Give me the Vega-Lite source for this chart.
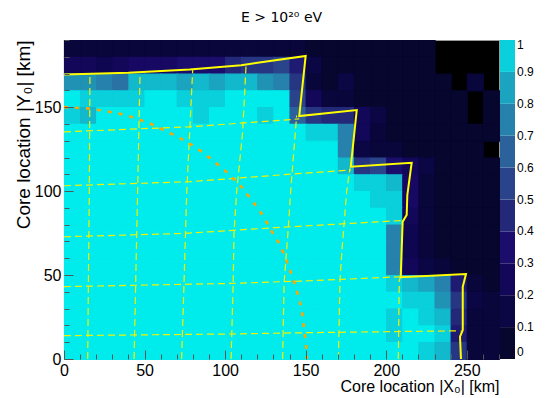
{
"$schema": "https://vega.github.io/schema/vega-lite/v6.json",
"width": 435, "height": 319,
"autosize": {"type": "none"},
"padding": {"left": 64, "top": 40, "right": 53, "bottom": 39},
"background": "white",
"title": {"text": "E > 10²⁰ eV", "font": "DejaVu Sans", "fontSize": 14, "fontWeight": "normal", "color": "#000", "offset": 7},
"config": {
  "view": {"fill": "black", "stroke": "#999", "strokeWidth": 1},
  "axis": {"labelFont": "Liberation Sans", "labelFontSize": 16, "labelColor": "#000", "titleFont": "Liberation Sans", "titleFontSize": 16, "titleFontWeight": "normal", "titleColor": "#000", "grid": false, "domainColor": "#333", "tickColor": "#555"}
},
"datasets": {
"heat": [
{"x":0,"y":180,"v":0.09},{"x":10,"y":180,"v":0.09},{"x":20,"y":180,"v":0.06},{"x":30,"y":180,"v":0.06},{"x":40,"y":180,"v":0.09},{"x":50,"y":180,"v":0.08},{"x":60,"y":180,"v":0.09},{"x":70,"y":180,"v":0.07},{"x":80,"y":180,"v":0.06},{"x":90,"y":180,"v":0.06},{"x":100,"y":180,"v":0.08},{"x":110,"y":180,"v":0.07},{"x":120,"y":180,"v":0.07},{"x":130,"y":180,"v":0.06},{"x":140,"y":180,"v":0.06},{"x":150,"y":180,"v":0.04},{"x":160,"y":180,"v":0.04},{"x":170,"y":180,"v":0.04},{"x":180,"y":180,"v":0.04},{"x":190,"y":180,"v":0.04},{"x":200,"y":180,"v":0.04},{"x":210,"y":180,"v":0.04},{"x":220,"y":180,"v":0.04},
{"x":0,"y":170,"v":0.22},{"x":10,"y":170,"v":0.22},{"x":20,"y":170,"v":0.18},{"x":30,"y":170,"v":0.22},{"x":40,"y":170,"v":0.28},{"x":50,"y":170,"v":0.28},{"x":60,"y":170,"v":0.25},{"x":70,"y":170,"v":0.3},{"x":80,"y":170,"v":0.33},{"x":90,"y":170,"v":0.33},{"x":100,"y":170,"v":0.42},{"x":110,"y":170,"v":0.45},{"x":120,"y":170,"v":0.48},{"x":130,"y":170,"v":0.5},{"x":140,"y":170,"v":0.38},{"x":150,"y":170,"v":0.12},{"x":160,"y":170,"v":0.04},{"x":170,"y":170,"v":0.04},{"x":180,"y":170,"v":0.04},{"x":190,"y":170,"v":0.04},{"x":200,"y":170,"v":0.04},{"x":210,"y":170,"v":0.04},{"x":220,"y":170,"v":0.04},
{"x":0,"y":160,"v":0.78},{"x":10,"y":160,"v":0.78},{"x":20,"y":160,"v":0.72},{"x":30,"y":160,"v":0.68},{"x":40,"y":160,"v":0.88},{"x":50,"y":160,"v":0.85},{"x":60,"y":160,"v":0.85},{"x":70,"y":160,"v":0.82},{"x":80,"y":160,"v":0.85},{"x":90,"y":160,"v":0.82},{"x":100,"y":160,"v":0.85},{"x":110,"y":160,"v":0.88},{"x":120,"y":160,"v":0.78},{"x":130,"y":160,"v":0.72},{"x":140,"y":160,"v":0.47},{"x":150,"y":160,"v":0.06},{"x":160,"y":160,"v":0.04},{"x":170,"y":160,"v":0.12},{"x":180,"y":160,"v":0.04},{"x":190,"y":160,"v":0.04},{"x":200,"y":160,"v":0.04},{"x":210,"y":160,"v":0.04},{"x":220,"y":160,"v":0.04},{"x":230,"y":160,"v":0.04},{"x":250,"y":160,"v":0.07},
{"x":0,"y":150,"v":0.97},{"x":10,"y":150,"v":0.93},{"x":20,"y":150,"v":0.93},{"x":30,"y":150,"v":0.93},{"x":40,"y":150,"v":0.9},{"x":50,"y":150,"v":0.97},{"x":60,"y":150,"v":0.97},{"x":70,"y":150,"v":0.93},{"x":80,"y":150,"v":0.93},{"x":90,"y":150,"v":0.93},{"x":100,"y":150,"v":0.97},{"x":110,"y":150,"v":0.97},{"x":120,"y":150,"v":0.97},{"x":130,"y":150,"v":0.97},{"x":140,"y":150,"v":0.52},{"x":150,"y":150,"v":0.22},{"x":160,"y":150,"v":0.08},{"x":170,"y":150,"v":0.06},{"x":180,"y":150,"v":0.04},{"x":190,"y":150,"v":0.04},{"x":200,"y":150,"v":0.04},{"x":210,"y":150,"v":0.04},{"x":220,"y":150,"v":0.04},{"x":230,"y":150,"v":0.04},{"x":240,"y":150,"v":0.04},{"x":260,"y":150,"v":0.04},
{"x":0,"y":140,"v":0.93},{"x":10,"y":140,"v":0.88},{"x":20,"y":140,"v":0.97},{"x":30,"y":140,"v":0.97},{"x":40,"y":140,"v":0.97},{"x":50,"y":140,"v":0.97},{"x":60,"y":140,"v":0.97},{"x":70,"y":140,"v":0.97},{"x":80,"y":140,"v":0.93},{"x":90,"y":140,"v":0.97},{"x":100,"y":140,"v":0.97},{"x":110,"y":140,"v":0.97},{"x":120,"y":140,"v":0.93},{"x":130,"y":140,"v":0.97},{"x":140,"y":140,"v":0.6},{"x":150,"y":140,"v":0.45},{"x":160,"y":140,"v":0.42},{"x":170,"y":140,"v":0.4},{"x":180,"y":140,"v":0.2},{"x":190,"y":140,"v":0.1},{"x":200,"y":140,"v":0.04},{"x":210,"y":140,"v":0.04},{"x":220,"y":140,"v":0.04},{"x":230,"y":140,"v":0.04},{"x":240,"y":140,"v":0.04},{"x":260,"y":140,"v":0.04},
{"x":0,"y":130,"v":0.97},{"x":10,"y":130,"v":0.97},{"x":20,"y":130,"v":0.97},{"x":30,"y":130,"v":0.97},{"x":40,"y":130,"v":0.97},{"x":50,"y":130,"v":0.97},{"x":60,"y":130,"v":0.97},{"x":70,"y":130,"v":0.97},{"x":80,"y":130,"v":0.97},{"x":90,"y":130,"v":0.97},{"x":100,"y":130,"v":0.97},{"x":110,"y":130,"v":0.97},{"x":120,"y":130,"v":0.97},{"x":130,"y":130,"v":0.97},{"x":140,"y":130,"v":0.97},{"x":150,"y":130,"v":0.92},{"x":160,"y":130,"v":0.92},{"x":170,"y":130,"v":0.72},{"x":180,"y":130,"v":0.2},{"x":190,"y":130,"v":0.08},{"x":200,"y":130,"v":0.04},{"x":210,"y":130,"v":0.04},{"x":220,"y":130,"v":0.04},{"x":230,"y":130,"v":0.04},{"x":240,"y":130,"v":0.04},{"x":250,"y":130,"v":0.04},{"x":260,"y":130,"v":0.04},
{"x":0,"y":120,"v":0.97},{"x":10,"y":120,"v":0.97},{"x":20,"y":120,"v":0.97},{"x":30,"y":120,"v":0.97},{"x":40,"y":120,"v":0.97},{"x":50,"y":120,"v":0.97},{"x":60,"y":120,"v":0.97},{"x":70,"y":120,"v":0.97},{"x":80,"y":120,"v":0.97},{"x":90,"y":120,"v":0.97},{"x":100,"y":120,"v":0.97},{"x":110,"y":120,"v":0.97},{"x":120,"y":120,"v":0.97},{"x":130,"y":120,"v":0.97},{"x":140,"y":120,"v":0.97},{"x":150,"y":120,"v":0.97},{"x":160,"y":120,"v":0.97},{"x":170,"y":120,"v":0.72},{"x":180,"y":120,"v":0.12},{"x":190,"y":120,"v":0.08},{"x":200,"y":120,"v":0.08},{"x":210,"y":120,"v":0.04},{"x":220,"y":120,"v":0.04},{"x":230,"y":120,"v":0.04},{"x":240,"y":120,"v":0.04},{"x":250,"y":120,"v":0.04},
{"x":0,"y":110,"v":0.97},{"x":10,"y":110,"v":0.97},{"x":20,"y":110,"v":0.97},{"x":30,"y":110,"v":0.97},{"x":40,"y":110,"v":0.97},{"x":50,"y":110,"v":0.97},{"x":60,"y":110,"v":0.97},{"x":70,"y":110,"v":0.97},{"x":80,"y":110,"v":0.97},{"x":90,"y":110,"v":0.97},{"x":100,"y":110,"v":0.97},{"x":110,"y":110,"v":0.97},{"x":120,"y":110,"v":0.97},{"x":130,"y":110,"v":0.97},{"x":140,"y":110,"v":0.97},{"x":150,"y":110,"v":0.97},{"x":160,"y":110,"v":0.97},{"x":170,"y":110,"v":0.88},{"x":180,"y":110,"v":0.45},{"x":190,"y":110,"v":0.52},{"x":200,"y":110,"v":0.3},{"x":210,"y":110,"v":0.2},{"x":220,"y":110,"v":0.1},{"x":230,"y":110,"v":0.04},{"x":240,"y":110,"v":0.04},{"x":250,"y":110,"v":0.04},{"x":260,"y":110,"v":0.04},
{"x":0,"y":100,"v":0.97},{"x":10,"y":100,"v":0.97},{"x":20,"y":100,"v":0.97},{"x":30,"y":100,"v":0.97},{"x":40,"y":100,"v":0.97},{"x":50,"y":100,"v":0.97},{"x":60,"y":100,"v":0.97},{"x":70,"y":100,"v":0.97},{"x":80,"y":100,"v":0.97},{"x":90,"y":100,"v":0.97},{"x":100,"y":100,"v":0.97},{"x":110,"y":100,"v":0.97},{"x":120,"y":100,"v":0.97},{"x":130,"y":100,"v":0.97},{"x":140,"y":100,"v":0.97},{"x":150,"y":100,"v":0.97},{"x":160,"y":100,"v":0.97},{"x":170,"y":100,"v":0.97},{"x":180,"y":100,"v":0.92},{"x":190,"y":100,"v":0.9},{"x":200,"y":100,"v":0.88},{"x":210,"y":100,"v":0.28},{"x":220,"y":100,"v":0.06},{"x":230,"y":100,"v":0.04},{"x":240,"y":100,"v":0.04},{"x":250,"y":100,"v":0.04},{"x":260,"y":100,"v":0.04},
{"x":0,"y":90,"v":0.97},{"x":10,"y":90,"v":0.97},{"x":20,"y":90,"v":0.97},{"x":30,"y":90,"v":0.97},{"x":40,"y":90,"v":0.97},{"x":50,"y":90,"v":0.97},{"x":60,"y":90,"v":0.97},{"x":70,"y":90,"v":0.97},{"x":80,"y":90,"v":0.97},{"x":90,"y":90,"v":0.97},{"x":100,"y":90,"v":0.97},{"x":110,"y":90,"v":0.97},{"x":120,"y":90,"v":0.97},{"x":130,"y":90,"v":0.97},{"x":140,"y":90,"v":0.97},{"x":150,"y":90,"v":0.97},{"x":160,"y":90,"v":0.97},{"x":170,"y":90,"v":0.97},{"x":180,"y":90,"v":0.95},{"x":190,"y":90,"v":0.92},{"x":200,"y":90,"v":0.9},{"x":210,"y":90,"v":0.25},{"x":220,"y":90,"v":0.05},{"x":230,"y":90,"v":0.04},{"x":240,"y":90,"v":0.04},{"x":250,"y":90,"v":0.04},{"x":260,"y":90,"v":0.04},
{"x":0,"y":80,"v":0.97},{"x":10,"y":80,"v":0.97},{"x":20,"y":80,"v":0.97},{"x":30,"y":80,"v":0.97},{"x":40,"y":80,"v":0.97},{"x":50,"y":80,"v":0.97},{"x":60,"y":80,"v":0.97},{"x":70,"y":80,"v":0.97},{"x":80,"y":80,"v":0.97},{"x":90,"y":80,"v":0.97},{"x":100,"y":80,"v":0.97},{"x":110,"y":80,"v":0.97},{"x":120,"y":80,"v":0.97},{"x":130,"y":80,"v":0.97},{"x":140,"y":80,"v":0.97},{"x":150,"y":80,"v":0.97},{"x":160,"y":80,"v":0.97},{"x":170,"y":80,"v":0.97},{"x":180,"y":80,"v":0.97},{"x":190,"y":80,"v":0.95},{"x":200,"y":80,"v":0.9},{"x":210,"y":80,"v":0.2},{"x":220,"y":80,"v":0.05},{"x":230,"y":80,"v":0.04},{"x":240,"y":80,"v":0.04},{"x":250,"y":80,"v":0.04},{"x":260,"y":80,"v":0.04},
{"x":0,"y":70,"v":0.97},{"x":10,"y":70,"v":0.97},{"x":20,"y":70,"v":0.97},{"x":30,"y":70,"v":0.97},{"x":40,"y":70,"v":0.97},{"x":50,"y":70,"v":0.97},{"x":60,"y":70,"v":0.97},{"x":70,"y":70,"v":0.97},{"x":80,"y":70,"v":0.97},{"x":90,"y":70,"v":0.97},{"x":100,"y":70,"v":0.97},{"x":110,"y":70,"v":0.97},{"x":120,"y":70,"v":0.97},{"x":130,"y":70,"v":0.97},{"x":140,"y":70,"v":0.97},{"x":150,"y":70,"v":0.97},{"x":160,"y":70,"v":0.97},{"x":170,"y":70,"v":0.97},{"x":180,"y":70,"v":0.97},{"x":190,"y":70,"v":0.97},{"x":200,"y":70,"v":0.72},{"x":210,"y":70,"v":0.15},{"x":220,"y":70,"v":0.08},{"x":230,"y":70,"v":0.04},{"x":240,"y":70,"v":0.04},{"x":250,"y":70,"v":0.04},{"x":260,"y":70,"v":0.04},
{"x":0,"y":60,"v":0.97},{"x":10,"y":60,"v":0.97},{"x":20,"y":60,"v":0.97},{"x":30,"y":60,"v":0.97},{"x":40,"y":60,"v":0.97},{"x":50,"y":60,"v":0.97},{"x":60,"y":60,"v":0.97},{"x":70,"y":60,"v":0.97},{"x":80,"y":60,"v":0.97},{"x":90,"y":60,"v":0.97},{"x":100,"y":60,"v":0.97},{"x":110,"y":60,"v":0.97},{"x":120,"y":60,"v":0.97},{"x":130,"y":60,"v":0.97},{"x":140,"y":60,"v":0.97},{"x":150,"y":60,"v":0.97},{"x":160,"y":60,"v":0.97},{"x":170,"y":60,"v":0.97},{"x":180,"y":60,"v":0.97},{"x":190,"y":60,"v":0.97},{"x":200,"y":60,"v":0.72},{"x":210,"y":60,"v":0.15},{"x":220,"y":60,"v":0.08},{"x":230,"y":60,"v":0.04},{"x":240,"y":60,"v":0.04},{"x":250,"y":60,"v":0.04},{"x":260,"y":60,"v":0.04},
{"x":0,"y":50,"v":0.97},{"x":10,"y":50,"v":0.97},{"x":20,"y":50,"v":0.97},{"x":30,"y":50,"v":0.97},{"x":40,"y":50,"v":0.97},{"x":50,"y":50,"v":0.97},{"x":60,"y":50,"v":0.97},{"x":70,"y":50,"v":0.97},{"x":80,"y":50,"v":0.97},{"x":90,"y":50,"v":0.97},{"x":100,"y":50,"v":0.97},{"x":110,"y":50,"v":0.97},{"x":120,"y":50,"v":0.97},{"x":130,"y":50,"v":0.97},{"x":140,"y":50,"v":0.97},{"x":150,"y":50,"v":0.97},{"x":160,"y":50,"v":0.97},{"x":170,"y":50,"v":0.97},{"x":180,"y":50,"v":0.97},{"x":190,"y":50,"v":0.97},{"x":200,"y":50,"v":0.72},{"x":210,"y":50,"v":0.2},{"x":220,"y":50,"v":0.1},{"x":230,"y":50,"v":0.07},{"x":240,"y":50,"v":0.04},{"x":250,"y":50,"v":0.04},{"x":260,"y":50,"v":0.04},
{"x":0,"y":40,"v":0.97},{"x":10,"y":40,"v":0.97},{"x":20,"y":40,"v":0.97},{"x":30,"y":40,"v":0.97},{"x":40,"y":40,"v":0.97},{"x":50,"y":40,"v":0.97},{"x":60,"y":40,"v":0.97},{"x":70,"y":40,"v":0.97},{"x":80,"y":40,"v":0.97},{"x":90,"y":40,"v":0.97},{"x":100,"y":40,"v":0.97},{"x":110,"y":40,"v":0.97},{"x":120,"y":40,"v":0.97},{"x":130,"y":40,"v":0.97},{"x":140,"y":40,"v":0.97},{"x":150,"y":40,"v":0.97},{"x":160,"y":40,"v":0.97},{"x":170,"y":40,"v":0.97},{"x":180,"y":40,"v":0.97},{"x":190,"y":40,"v":0.97},{"x":200,"y":40,"v":0.9},{"x":210,"y":40,"v":0.88},{"x":220,"y":40,"v":0.82},{"x":230,"y":40,"v":0.72},{"x":240,"y":40,"v":0.35},{"x":250,"y":40,"v":0.05},{"x":260,"y":40,"v":0.04},
{"x":0,"y":30,"v":0.97},{"x":10,"y":30,"v":0.97},{"x":20,"y":30,"v":0.97},{"x":30,"y":30,"v":0.97},{"x":40,"y":30,"v":0.97},{"x":50,"y":30,"v":0.97},{"x":60,"y":30,"v":0.97},{"x":70,"y":30,"v":0.97},{"x":80,"y":30,"v":0.97},{"x":90,"y":30,"v":0.97},{"x":100,"y":30,"v":0.97},{"x":110,"y":30,"v":0.97},{"x":120,"y":30,"v":0.97},{"x":130,"y":30,"v":0.97},{"x":140,"y":30,"v":0.97},{"x":150,"y":30,"v":0.97},{"x":160,"y":30,"v":0.97},{"x":170,"y":30,"v":0.97},{"x":180,"y":30,"v":0.97},{"x":190,"y":30,"v":0.97},{"x":200,"y":30,"v":0.95},{"x":210,"y":30,"v":0.93},{"x":220,"y":30,"v":0.9},{"x":230,"y":30,"v":0.78},{"x":240,"y":30,"v":0.45},{"x":250,"y":30,"v":0.1},{"x":260,"y":30,"v":0.05},
{"x":0,"y":20,"v":0.97},{"x":10,"y":20,"v":0.97},{"x":20,"y":20,"v":0.97},{"x":30,"y":20,"v":0.97},{"x":40,"y":20,"v":0.97},{"x":50,"y":20,"v":0.97},{"x":60,"y":20,"v":0.97},{"x":70,"y":20,"v":0.97},{"x":80,"y":20,"v":0.97},{"x":90,"y":20,"v":0.97},{"x":100,"y":20,"v":0.97},{"x":110,"y":20,"v":0.97},{"x":120,"y":20,"v":0.97},{"x":130,"y":20,"v":0.97},{"x":140,"y":20,"v":0.97},{"x":150,"y":20,"v":0.97},{"x":160,"y":20,"v":0.97},{"x":170,"y":20,"v":0.97},{"x":180,"y":20,"v":0.97},{"x":190,"y":20,"v":0.97},{"x":200,"y":20,"v":0.93},{"x":210,"y":20,"v":0.95},{"x":220,"y":20,"v":0.93},{"x":230,"y":20,"v":0.85},{"x":240,"y":20,"v":0.42},{"x":250,"y":20,"v":0.07},{"x":260,"y":20,"v":0.05},
{"x":0,"y":10,"v":0.97},{"x":10,"y":10,"v":0.97},{"x":20,"y":10,"v":0.97},{"x":30,"y":10,"v":0.97},{"x":40,"y":10,"v":0.97},{"x":50,"y":10,"v":0.97},{"x":60,"y":10,"v":0.97},{"x":70,"y":10,"v":0.97},{"x":80,"y":10,"v":0.97},{"x":90,"y":10,"v":0.97},{"x":100,"y":10,"v":0.97},{"x":110,"y":10,"v":0.97},{"x":120,"y":10,"v":0.97},{"x":130,"y":10,"v":0.97},{"x":140,"y":10,"v":0.97},{"x":150,"y":10,"v":0.97},{"x":160,"y":10,"v":0.97},{"x":170,"y":10,"v":0.97},{"x":180,"y":10,"v":0.97},{"x":190,"y":10,"v":0.97},{"x":200,"y":10,"v":0.9},{"x":210,"y":10,"v":0.97},{"x":220,"y":10,"v":0.97},{"x":230,"y":10,"v":0.9},{"x":240,"y":10,"v":0.38},{"x":250,"y":10,"v":0.05},{"x":260,"y":10,"v":0.05},
{"x":0,"y":0,"v":0.97},{"x":10,"y":0,"v":0.97},{"x":20,"y":0,"v":0.97},{"x":30,"y":0,"v":0.97},{"x":40,"y":0,"v":0.97},{"x":50,"y":0,"v":0.97},{"x":60,"y":0,"v":0.97},{"x":70,"y":0,"v":0.97},{"x":80,"y":0,"v":0.97},{"x":90,"y":0,"v":0.97},{"x":100,"y":0,"v":0.97},{"x":110,"y":0,"v":0.97},{"x":120,"y":0,"v":0.97},{"x":130,"y":0,"v":0.97},{"x":140,"y":0,"v":0.97},{"x":150,"y":0,"v":0.97},{"x":160,"y":0,"v":0.97},{"x":170,"y":0,"v":0.97},{"x":180,"y":0,"v":0.97},{"x":190,"y":0,"v":0.97},{"x":200,"y":0,"v":0.97},{"x":210,"y":0,"v":0.97},{"x":220,"y":0,"v":0.9},{"x":230,"y":0,"v":0.85},{"x":240,"y":0,"v":0.45},{"x":250,"y":0,"v":0.08},{"x":260,"y":0,"v":0.06}
],
"bound": [
{"o":1,"x":0,"y":169.5},{"o":2,"x":40,"y":170.5},{"o":3,"x":78,"y":172.5},{"o":4,"x":110,"y":175},{"o":5,"x":150,"y":180.5},{"o":6,"x":146,"y":144.7},{"o":7,"x":181.7,"y":148.3},{"o":8,"x":178,"y":114.5},{"o":9,"x":215.8,"y":116.9},{"o":10,"x":213.1,"y":97.7},{"o":11,"x":212.7,"y":85.8},{"o":12,"x":210.2,"y":81.8},{"o":13,"x":209,"y":48.7},{"o":14,"x":249.5,"y":50.6},{"o":15,"x":247.5,"y":43},{"o":16,"x":247.5,"y":17.3},{"o":17,"x":245.8,"y":13.3},{"o":18,"x":246.4,"y":0}
],
"grid": [
{"id":"h1","x":0,"y":135.3},{"id":"h1","x":78,"y":138.3},{"id":"h1","x":146,"y":143},
{"id":"h2","x":0,"y":103.2},{"id":"h2","x":78,"y":105.6},{"id":"h2","x":134,"y":109.6},{"id":"h2","x":178,"y":112.6},
{"id":"h3","x":0,"y":72.8},{"id":"h3","x":74.5,"y":74.8},{"id":"h3","x":134,"y":78.4},{"id":"h3","x":210,"y":82.5},
{"id":"h4","x":0,"y":43.1},{"id":"h4","x":103,"y":45},{"id":"h4","x":152.7,"y":46.6},{"id":"h4","x":209,"y":49},
{"id":"h5","x":0,"y":13.9},{"id":"h5","x":103,"y":14.9},{"id":"h5","x":152.7,"y":15.7},{"id":"h5","x":246,"y":16.8},
{"id":"v1","x":14.7,"y":0},{"id":"v1","x":15.7,"y":100},{"id":"v1","x":16.1,"y":169.5},
{"id":"v2","x":43.5,"y":0},{"id":"v2","x":45.1,"y":72.9},{"id":"v2","x":45.7,"y":100},{"id":"v2","x":47.2,"y":170.5},
{"id":"v3","x":73,"y":0},{"id":"v3","x":74.5,"y":45.3},{"id":"v3","x":76.2,"y":100},{"id":"v3","x":79.9,"y":172.5},
{"id":"v4","x":103.7,"y":0},{"id":"v4","x":105,"y":45},{"id":"v4","x":105.5,"y":74.8},{"id":"v4","x":107.2,"y":100},{"id":"v4","x":110.9,"y":135.4},{"id":"v4","x":113,"y":175},
{"id":"v5","x":135.7,"y":0},{"id":"v5","x":136.6,"y":45},{"id":"v5","x":139.2,"y":77.8},{"id":"v5","x":140.7,"y":100},{"id":"v5","x":144.4,"y":145},
{"id":"v6","x":170.3,"y":0},{"id":"v6","x":171.3,"y":47},{"id":"v6","x":172.4,"y":63},{"id":"v6","x":175.5,"y":100.6},{"id":"v6","x":177.5,"y":113.5},
{"id":"v7","x":207.5,"y":0},{"id":"v7","x":208.1,"y":47},{"id":"v7","x":208.8,"y":48.7}
],
"circ": [
{"o":1,"x":0,"y":150},{"o":2,"x":5.8,"y":149.7},{"o":3,"x":14.1,"y":149.3},{"o":4,"x":22.3,"y":148.2},{"o":5,"x":29.6,"y":147},{"o":6,"x":37.9,"y":145.4},{"o":7,"x":45.5,"y":143},{"o":8,"x":53,"y":140.4},{"o":9,"x":59.6,"y":137.4},{"o":10,"x":66.9,"y":134},{"o":11,"x":74.1,"y":130.4},{"o":12,"x":80.3,"y":126.9},{"o":13,"x":86.9,"y":122.5},{"o":14,"x":93.3,"y":117.5},{"o":15,"x":99.5,"y":112.6},{"o":16,"x":105.2,"y":107.2},{"o":17,"x":111,"y":101.7},{"o":18,"x":115.9,"y":95.1},{"o":19,"x":121,"y":89.2},{"o":20,"x":125.2,"y":82.4},{"o":21,"x":129.1,"y":75.8},{"o":22,"x":133.3,"y":69.3},{"o":23,"x":136.6,"y":62.4},{"o":24,"x":139.5,"y":55},{"o":25,"x":142.3,"y":47.5},{"o":26,"x":144.6,"y":40.1},{"o":27,"x":146.9,"y":32.2},{"o":28,"x":148.2,"y":25.2},{"o":29,"x":149,"y":17.3},{"o":30,"x":150.2,"y":9.4},{"o":31,"x":150.8,"y":0}
]
},
"layer": [
{
  "data": {"name": "heat"},
  "mark": {"type": "rect", "binSpacing": 0, "strokeWidth": 1.2},
  "encoding": {
    "x": {"field": "x", "type": "quantitative", "bin": {"binned": true, "step": 10},
          "scale": {"domain": [0, 270], "nice": false, "zero": false},
          "axis": {"title": "Core location |X₀| [km]", "titleAnchor": "end", "titlePadding": -4,
                   "values": [0,10,20,30,40,50,60,70,80,90,100,110,120,130,140,150,160,170,180,190,200,210,220,230,240,250,260,270],
                   "labelExpr": "datum.value % 50 === 0 ? datum.label : ''",
                   "tickSize": {"condition": {"test": "datum.value % 50 === 0", "value": -9}, "value": -5},
                   "labelPadding": 12, "labelFlush": false, "labelOverlap": false, "domain": false}},
    "y": {"field": "y", "type": "quantitative", "bin": {"binned": true, "step": 10},
          "scale": {"domain": [0, 190], "nice": false, "zero": false},
          "axis": {"title": "Core location |Y₀| [km]", "titleAnchor": "end", "titlePadding": 1, "titleFontSize": 19,
                   "values": [0,10,20,30,40,50,60,70,80,90,100,110,120,130,140,150,160,170,180,190],
                   "labelExpr": "datum.value % 50 === 0 ? datum.label : ''",
                   "tickSize": {"condition": {"test": "datum.value % 50 === 0", "value": -9}, "value": -5},
                   "labelPadding": 12, "labelFlush": false, "labelOverlap": false, "domain": false}},
    "color": {"field": "v", "type": "quantitative",
              "scale": {"type": "quantize", "domain": [0, 1], "nice": false,
                        "range": ["#06062e","#08063a","#0b0644","#0e0650","#13075a","#170863","#1b0d6c","#1f1a72","#232878","#273682","#2a448c","#2b5294","#2b629c","#2a72a4","#2682ac","#2092b4","#1aa4c0","#12b8cc","#0ad0dc","#00ecec"]},
              "legend": {"type": "gradient", "title": null, "values": [0.0001,0.1,0.2,0.3,0.4,0.5,0.6,0.7,0.8,0.9,1],
                         "labelExpr": "format(datum.value, '.1~f')",
                         "gradientLength": 319, "gradientThickness": 15, "offset": 1, "padding": 0,
                         "labelFont": "Liberation Sans", "labelFontSize": 12, "labelColor": "#000", "labelOverlap": false, "gradientStrokeWidth": 0}},
    "stroke": {"field": "v", "type": "quantitative",
              "scale": {"type": "quantize", "domain": [0, 1], "nice": false,
                        "range": ["#06062e","#08063a","#0b0644","#0e0650","#13075a","#170863","#1b0d6c","#1f1a72","#232878","#273682","#2a448c","#2b5294","#2b629c","#2a72a4","#2682ac","#2092b4","#1aa4c0","#12b8cc","#0ad0dc","#00ecec"]},
              "legend": null}
  }
},
{
  "data": {"name": "grid"},
  "mark": {"type": "line", "color": "#f2f200", "strokeWidth": 1.2, "strokeDash": [7, 4]},
  "encoding": {"x": {"field": "x", "type": "quantitative"}, "y": {"field": "y", "type": "quantitative"}, "detail": {"field": "id"}}
},
{
  "data": {"name": "circ"},
  "mark": {"type": "line", "color": "#ffa500", "strokeWidth": 2.6, "strokeDash": [4, 7]},
  "encoding": {"x": {"field": "x", "type": "quantitative"}, "y": {"field": "y", "type": "quantitative"}, "order": {"field": "o"}}
},
{
  "data": {"name": "bound"},
  "mark": {"type": "line", "color": "#ffff00", "strokeWidth": 2},
  "encoding": {"x": {"field": "x", "type": "quantitative"}, "y": {"field": "y", "type": "quantitative"}, "order": {"field": "o"}}
}
]
}
